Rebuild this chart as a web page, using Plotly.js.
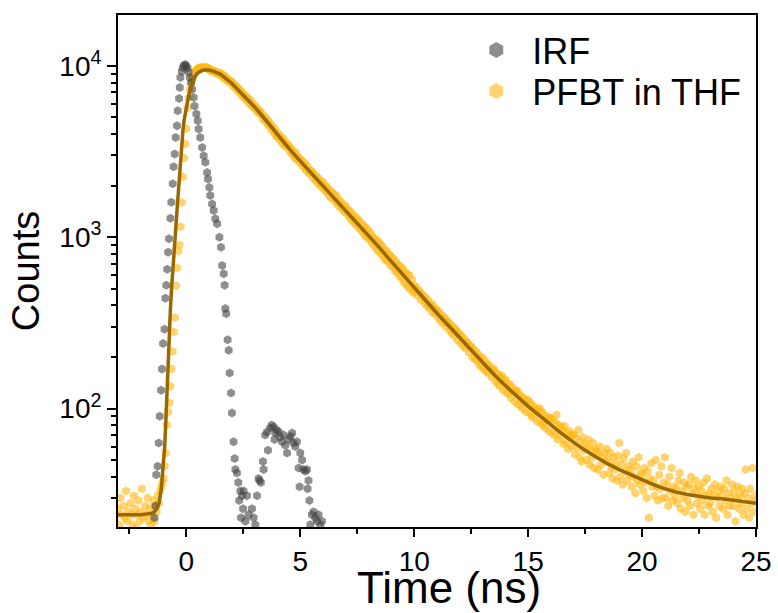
<!DOCTYPE html>
<html>
<head>
<meta charset="utf-8">
<script src="https://cdn.plot.ly/plotly-3.0.1.min.js"></script>
<style>html,body{margin:0;padding:0;background:#fff;}#chart{width:778px;height:613px;}</style>
</head>
<body>
<div id="chart"></div>
<script>
// PFBT in THF decay (time in ns, counts)
const pfbtTime = [
-3,-2.95,-2.9,-2.85,-2.8,-2.75,-2.7,-2.65,-2.6,-2.55,-2.5,-2.45,-2.4,-2.35,-2.3,-2.25,-2.2,-2.15,-2.1,-2.05,
-2,-1.95,-1.9,-1.85,-1.8,-1.75,-1.7,-1.65,-1.6,-1.55,-1.5,-1.45,-1.4,-1.35,-1.3,-1.25,-1.2,-1.15,-1.1,-1.05,
-1,-0.95,-0.9,-0.85,-0.8,-0.75,-0.7,-0.65,-0.6,-0.55,-0.5,-0.45,-0.4,-0.35,-0.3,-0.25,-0.2,-0.15,-0.1,-0.05,
0,0.05,0.1,0.15,0.2,0.25,0.3,0.35,0.4,0.45,0.5,0.55,0.6,0.65,0.7,0.75,0.8,0.85,0.9,0.95,
1,1.05,1.1,1.15,1.2,1.25,1.3,1.35,1.4,1.45,1.5,1.55,1.6,1.65,1.7,1.75,1.8,1.85,1.9,1.95,
2,2.05,2.1,2.15,2.2,2.25,2.3,2.35,2.4,2.45,2.5,2.55,2.6,2.65,2.7,2.75,2.8,2.85,2.9,2.95,
3,3.05,3.1,3.15,3.2,3.25,3.3,3.35,3.4,3.45,3.5,3.55,3.6,3.65,3.7,3.75,3.8,3.85,3.9,3.95,
4,4.05,4.1,4.15,4.2,4.25,4.3,4.35,4.4,4.45,4.5,4.55,4.6,4.65,4.7,4.75,4.8,4.85,4.9,4.95,
5,5.05,5.1,5.15,5.2,5.25,5.3,5.35,5.4,5.45,5.5,5.55,5.6,5.65,5.7,5.75,5.8,5.85,5.9,5.95,
6,6.05,6.1,6.15,6.2,6.25,6.3,6.35,6.4,6.45,6.5,6.55,6.6,6.65,6.7,6.75,6.8,6.85,6.9,6.95,
7,7.05,7.1,7.15,7.2,7.25,7.3,7.35,7.4,7.45,7.5,7.55,7.6,7.65,7.7,7.75,7.8,7.85,7.9,7.95,
8,8.05,8.1,8.15,8.2,8.25,8.3,8.35,8.4,8.45,8.5,8.55,8.6,8.65,8.7,8.75,8.8,8.85,8.9,8.95,
9,9.05,9.1,9.15,9.2,9.25,9.3,9.35,9.4,9.45,9.5,9.55,9.6,9.65,9.7,9.75,9.8,9.85,9.9,9.95,
10,10.05,10.1,10.15,10.2,10.25,10.3,10.35,10.4,10.45,10.5,10.55,10.6,10.65,10.7,10.75,10.8,10.85,10.9,10.95,
11,11.05,11.1,11.15,11.2,11.25,11.3,11.35,11.4,11.45,11.5,11.55,11.6,11.65,11.7,11.75,11.8,11.85,11.9,11.95,
12,12.05,12.1,12.15,12.2,12.25,12.3,12.35,12.4,12.45,12.5,12.55,12.6,12.65,12.7,12.75,12.8,12.85,12.9,12.95,
13,13.05,13.1,13.15,13.2,13.25,13.3,13.35,13.4,13.45,13.5,13.55,13.6,13.65,13.7,13.75,13.8,13.85,13.9,13.95,
14,14.05,14.1,14.15,14.2,14.25,14.3,14.35,14.4,14.45,14.5,14.55,14.6,14.65,14.7,14.75,14.8,14.85,14.9,14.95,
15,15.05,15.1,15.15,15.2,15.25,15.3,15.35,15.4,15.45,15.5,15.55,15.6,15.65,15.7,15.75,15.8,15.85,15.9,15.95,
16,16.05,16.1,16.15,16.2,16.25,16.3,16.35,16.4,16.45,16.5,16.55,16.6,16.65,16.7,16.75,16.8,16.85,16.9,16.95,
17,17.05,17.1,17.15,17.2,17.25,17.3,17.35,17.4,17.45,17.5,17.55,17.6,17.65,17.7,17.75,17.8,17.85,17.9,17.95,
18,18.05,18.1,18.15,18.2,18.25,18.3,18.35,18.4,18.45,18.5,18.55,18.6,18.65,18.7,18.75,18.8,18.85,18.9,18.95,
19,19.05,19.1,19.15,19.2,19.25,19.3,19.35,19.4,19.45,19.5,19.55,19.6,19.65,19.7,19.75,19.8,19.85,19.9,19.95,
20,20.05,20.1,20.15,20.2,20.25,20.3,20.35,20.4,20.45,20.5,20.55,20.6,20.65,20.7,20.75,20.8,20.85,20.9,20.95,
21,21.05,21.1,21.15,21.2,21.25,21.3,21.35,21.4,21.45,21.5,21.55,21.6,21.65,21.7,21.75,21.8,21.85,21.9,21.95,
22,22.05,22.1,22.15,22.2,22.25,22.3,22.35,22.4,22.45,22.5,22.55,22.6,22.65,22.7,22.75,22.8,22.85,22.9,22.95,
23,23.05,23.1,23.15,23.2,23.25,23.3,23.35,23.4,23.45,23.5,23.55,23.6,23.65,23.7,23.75,23.8,23.85,23.9,23.95,
24,24.05,24.1,24.15,24.2,24.25,24.3,24.35,24.4,24.45,24.5,24.55,24.6,24.65,24.7,24.75,24.8,24.85,24.9,24.95,
25];
const pfbtCounts = [
26,21,30,24,19,27,23,33,22,25,18,28,24,21,31,26,20,24,29,22,
25,34,23,19,27,24,30,22,26,21,24,29,22,27,25,31,28,33,35,37,
39,46,55,80,95,108,135,170,215,280,340,520,660,830,900,1150,1600,2250,2900,3500,
4300,5700,6500,7200,7900,8400,8800,9100,9350,9500,9650,9700,9800,9750,9850,9800,9750,9850,9700,9750,
9520,9350,9480,9390,9210,9330,9100,9180,9010,8950,9110,8680,8870,8480,8670,8260,8460,8100,8020,8180,
8060,7600,7820,7400,7600,7160,7390,6940,7130,6700,6910,6480,6680,6300,6500,6060,6320,5880,6080,5730,
5630,5830,5410,5590,5230,5410,5240,4910,5140,4770,4960,4610,4780,4410,4600,4230,4390,4050,4250,3890,
3850,4020,3710,3860,3540,3750,3430,3580,3360,3460,3400,3155,3290,3025,3180,2910,3100,2850,2960,2750,
2860,2666,2772,2557,2701,2464,2607,2409,2350,2450,2430,2228,2345,2161,2277,2072,2207,2021,2115,1948,
2100,1892,2004,1835,1946,1756,1886,1695,1824,1672,1780,1608,1736,1543,1650,1496,1602,1467,1412,1536,
1500,1364,1447,1310,1413,1255,1357,1218,1319,1180,1280,1140,1240,1100,1200,1059,1158,1016,1134,992,
1090,968,1046,924,1001,888,975,851,947,823,920,795,890,765,849,733,827,721,794,687,
770,672,745,637,718,620,691,593,674,574,655,546,626,527,607,507,597,497,566,476,
520,480,510,455,490,475,430,465,450,415,445,400,430,385,395,410,365,395,355,380,
375,340,365,325,350,315,340,335,300,320,320,285,310,275,300,265,290,285,250,275,
270,240,262,232,255,225,245,240,212,232,230,200,222,195,215,190,208,180,200,176,
198,170,190,165,182,160,178,172,152,168,170,145,162,140,158,135,150,156,128,146,
148,124,140,122,138,115,133,128,110,126,128,106,122,104,118,100,115,112,96,110,
112,94,108,90,104,88,101,97,84,99,100,82,96,80,92,77,90,86,74,88,
88,72,85,70,82,92,66,80,69,78,76,62,79,64,72,58,74,69,60,71,
70,54,67,59,75,52,64,49,68,57,62,50,59,66,47,57,52,63,45,58,
56,44,54,60,47,52,41,55,49,58,50,42,55,46,39,52,44,48,38,53,
63,40,47,36,51,43,55,38,46,41,44,35,49,40,32,46,38,52,36,42,
41,33,45,37,30,43,23,39,48,35,38,31,50,35,29,41,34,46,30,37,
52,30,36,27,40,33,45,29,35,31,34,28,38,42,26,33,30,37,25,35,
29,36,27,40,32,24,34,38,28,31,35,26,33,29,37,24,31,39,27,32,
28,34,25,31,36,23,30,33,27,35,31,26,34,29,38,24,32,27,30,36,
27,33,22,30,35,26,31,28,34,24,32,44,26,30,23,34,28,45,25,31,
29];

// Instrument response function (time in ns, counts)
const irfTime = [
-1.40,-1.36,-1.32,-1.26,-1.21,-1.17,-1.11,-1.07,-1.02,-0.96,
-0.92,-0.88,-0.84,-0.80,-0.76,-0.70,-0.66,-0.60,-0.56,-0.51,
-0.47,-0.41,-0.38,-0.32,-0.29,-0.26,-0.20,-0.15,-0.10,-0.05,
0.00,0.05,0.10,0.15,0.21,0.25,0.32,0.36,0.44,0.50,
0.54,0.61,0.69,0.76,0.83,0.91,0.95,1.01,1.05,1.13,
1.20,1.27,1.35,1.45,1.52,1.57,1.64,1.68,1.71,1.75,
1.81,1.86,1.90,1.96,2.00,2.07,2.12,2.15,2.22,2.28,
2.32,2.37,2.40,2.44,2.49,2.51,2.59,2.66,2.73,2.88,
2.95,3.03,3.10,3.17,3.21,3.27,3.36,3.39,3.46,3.54,
3.58,3.68,3.75,3.83,3.87,3.90,3.97,4.05,4.12,4.20,
4.27,4.34,4.42,4.50,4.57,4.64,4.70,4.78,4.85,4.93,
4.97,5.00,5.08,5.14,5.22,5.29,5.32,5.36,5.40,5.44,
5.51,5.58,5.66,5.73,5.80,5.88,5.95];
const irfCounts = [
23,27,41,46,63,90,128,170,240,290,
440,524,650,818,980,1290,1600,2050,2580,3060,
3820,4480,5470,6460,7480,8550,9300,9800,10100,10200,
10000,9700,9200,8550,8000,7310,6530,5840,5230,4790,
4280,3820,3340,2990,2740,2390,2190,1950,1750,1560,
1430,1280,1200,1000,875,684,612,524,383,357,
252,219,161,123,94,64,51,44,42,37,
29,33,23,31,26,33,22,31,24,26,
23,21,31,39,38,37,49,44,70,73,
57,77,80,78,66,72,75,73,68,64,
70,61,55,66,69,72,63,60,64,45,
35,55,50,44,43,44,34,38,29,21,
24,25,23,22,24,21,22];

// Fit curve
const fitTime = [-3,-2,-1.5,-1.4,-1.3,-1.2,-1.1,-1.0,-0.95,-0.9,-0.85,-0.8,-0.75,-0.7,-0.65,-0.6,-0.55,-0.5,-0.45,-0.4,-0.35,-0.3,-0.25,-0.2,-0.15,-0.1,-0.05,0,0.1,0.2,0.3,0.4,0.5,0.6,0.7,0.8,1.0,1.2,1.5,2,2.5,3,3.5,4,4.5,5,5.5,6,6.5,7,7.5,8,8.5,9,9.5,10,10.5,11,11.5,12,12.5,13,13.5,14,14.5,15,15.5,16,16.5,17,17.5,18,18.5,19,19.5,20,20.5,21,21.5,22,22.5,23,23.5,24,24.5,25];
const fitCounts = [24,24,24.5,25,26,28,34,46,60,85,130,200,280,380,500,650,830,1000,1200,1500,1900,2400,3000,3500,4200,4800,5300,5850,6700,7500,8200,8750,9100,9300,9400,9450,9450,9300,8950,7900,6750,5750,4800,3950,3300,2780,2350,2000,1700,1440,1220,1030,860,720,605,505,425,360,305,258,218,185,158,136,118,103,91,80,71,63.5,57,52,47.5,44,41,38.5,36,34,32.5,31.5,30.7,30,29.7,29.2,28.7,28];

// Axis ticks
const xMajorTicks = [0, 5, 10, 15, 20, 25];
const xMinorTicks = [-2.5, 2.5, 7.5, 12.5, 17.5, 22.5];
const yMajorTicks = [100, 1000, 10000];
const yMajorText = ['10<sup>2</sup>', '10<sup>3</sup>', '10<sup>4</sup>'];
const yMinorTicks = [30,40,50,60,70,80,90,200,300,400,500,600,700,800,900,2000,3000,4000,5000,6000,7000,8000,9000];

const seriesNames = ['IRF', 'PFBT in THF'];
const xTitle = 'Time (ns)';
const yTitle = 'Counts';

const irfColor = 'rgb(66,66,66)';
const pfbtColor = 'rgb(255,183,17)';
const fitColor = '#9a6800';
const FONT = 'Arial, "Liberation Sans", "Helvetica", sans-serif';

const traces = [
  {x:[null], y:[null], type:'scatter', mode:'markers', name:seriesNames[0], legend:'legend',
   marker:{symbol:'hexagon', size:16, color:irfColor, opacity:0.6}, hoverinfo:'skip'},
  {x:[null], y:[null], type:'scatter', mode:'markers', name:seriesNames[1], legend:'legend2',
   marker:{symbol:'hexagon', size:16, color:pfbtColor, opacity:0.6}, hoverinfo:'skip'},
  {x:pfbtTime, y:pfbtCounts, type:'scatter', mode:'markers', showlegend:false,
   marker:{symbol:'hexagon', size:9, color:pfbtColor, opacity:0.6}},
  {x:irfTime, y:irfCounts, type:'scatter', mode:'markers', showlegend:false,
   marker:{symbol:'hexagon', size:9, color:irfColor, opacity:0.6}},
  {x:fitTime, y:fitCounts, type:'scatter', mode:'lines', showlegend:false,
   line:{color:fitColor, width:3.5}}
];

const legendCommon = {xanchor:'left', yanchor:'top', bgcolor:'rgba(0,0,0,0)', borderwidth:0,
  font:{family:FONT, size:36, color:'#000'}, itemwidth:62};

const layout = {
  width:778, height:613,
  margin:{l:118, r:22, t:15, b:86, pad:0},
  paper_bgcolor:'#fff', plot_bgcolor:'#fff',
  font:{family:FONT, color:'#000'},
  showlegend:true,
  legend:Object.assign({x:0.5365, y:0.990}, legendCommon),
  legend2:Object.assign({x:0.5365, y:0.910}, legendCommon),
  xaxis:{range:[-3,25], tickmode:'array', tickvals:xMajorTicks,
         ticks:'outside', ticklen:8, tickwidth:2, tickcolor:'#000',
         showline:true, linewidth:2, linecolor:'#000', mirror:true,
         showgrid:false, zeroline:false,
         tickfont:{family:FONT, size:28, color:'#000'},
         minor:{tickmode:'array', tickvals:xMinorTicks, ticks:'outside', ticklen:5, tickwidth:2,
                tickcolor:'#000', showgrid:false}},
  yaxis:{type:'log', range:[1.3084, 4.2971], tickmode:'array', tickvals:yMajorTicks, ticktext:yMajorText,
         ticks:'outside', ticklen:9, tickwidth:2, tickcolor:'#000',
         showline:true, linewidth:2, linecolor:'#000', mirror:true,
         showgrid:false, zeroline:false,
         tickfont:{family:FONT, size:28, color:'#000'},
         title:{text:yTitle, font:{family:FONT, size:38, color:'#000'}, standoff:8},
         minor:{tickmode:'array', tickvals:yMinorTicks, ticks:'outside', ticklen:5, tickwidth:2,
                tickcolor:'#000', showgrid:false}},
  annotations:[
    {text:xTitle, xref:'paper', yref:'paper', x:0.519, y:-0.1185, xanchor:'center', yanchor:'middle',
     showarrow:false, borderpad:0, font:{family:FONT, size:44, color:'#000'}}
  ]
};

Plotly.newPlot('chart', traces, layout, {displayModeBar:false});
</script>
</body>
</html>
